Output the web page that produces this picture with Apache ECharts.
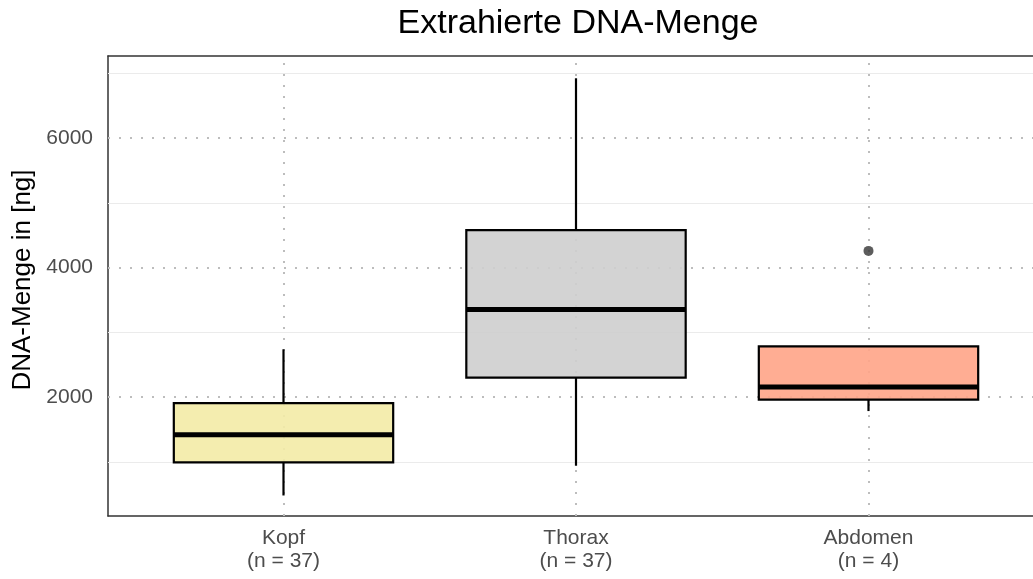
<!DOCTYPE html>
<html>
<head>
<meta charset="utf-8">
<script src="https://cdn.jsdelivr.net/npm/echarts@6/dist/echarts.min.js"></script>
<style>
  html, body { margin: 0; padding: 0; background: #fff; }
  #chart { width: 1033px; height: 579px; }
</style>
</head>
<body>
<div id="chart"></div>
<script>
// Daten
const categories = ['Kopf', 'Thorax', 'Abdomen'];
const counts = [37, 37, 4];
const lowerWhisker = [482, 941, 1785];
const q1 = [992, 2301, 1961];
const median = [1420, 3352, 2156];
const q3 = [1909, 4578, 2785];
const upperWhisker = [2739, 6923, 2785];
const outliers = [[3, 4258]];
const boxColors = ['rgba(243,235,166,0.9)', 'rgba(206,206,206,0.9)', 'rgba(255,164,135,0.9)'];
const majorTicks = [2000, 4000, 6000];
const minorTicks = [1000, 3000, 5000, 7000];

const boxData = categories.map((c, i) => [i + 1, lowerWhisker[i], q1[i], median[i], q3[i], upperWhisker[i]]);

const myChart = echarts.init(document.getElementById('chart'));

const txt = '#4D4D4D';
const font = 'Liberation Sans';

// Gitterlinien als markLine (unter den Boxen)
const gridLines = [];
minorTicks.forEach(v => gridLines.push({ yAxis: v, lineStyle: { color: '#EBEBEB', width: 1.2, type: 'solid' } }));
majorTicks.forEach(v => gridLines.push({ yAxis: v, lineStyle: { color: '#BDBDBD', width: 2, type: [2, 9] } }));
categories.forEach((c, i) => gridLines.push({ xAxis: i + 1, lineStyle: { color: '#BDBDBD', width: 2, type: [2, 9] } }));

const halfW = 0.375;
const frame = { show: true, onZero: false, lineStyle: { color: '#333', width: 1.5 } };

const option = {
    backgroundColor: '#fff',
    animation: false,
    textStyle: { fontFamily: font },
    title: {
        text: 'Extrahierte DNA-Menge',
        left: 573,
        top: 2,
        textAlign: 'center',
        textStyle: { fontFamily: font, fontSize: 34, fontWeight: 'normal', color: '#000' }
    },
    grid: {
        left: 108, right: 0, top: 56, bottom: 63,
        containLabel: false
    },
    // Panel ist rechts abgeschnitten: 0.4 .. 3.6 wuerde ueber den Rand gehen
    xAxis: [{
        type: 'value', min: 0.4, max: 3.5624,
        axisLine: frame,
        axisTick: { show: false },
        splitLine: { show: false },
        axisLabel: {
            customValues: [1, 2, 3],
            color: txt, fontSize: 21, lineHeight: 23, margin: 11,
            formatter: v => categories[Math.round(v) - 1] + '\n(n = ' + counts[Math.round(v) - 1] + ')'
        }
    }, {
        type: 'value', min: 0.4, max: 3.5624, position: 'top',
        axisLine: frame,
        axisTick: { show: false },
        axisLabel: { show: false },
        splitLine: { show: false }
    }],
    yAxis: {
        type: 'value', min: 165, max: 7267,
        name: 'DNA-Menge in [ng]',
        nameLocation: 'middle', nameGap: 68,
        nameTextStyle: { fontFamily: font, fontSize: 26, color: '#000', padding: [0, 0, 0, 12] },
        axisLine: frame,
        axisTick: { show: false },
        splitLine: { show: false },
        axisLabel: { customValues: majorTicks, color: txt, fontSize: 21, margin: 15, formatter: v => String(v) }
    },
    series: [
        {
            type: 'line', data: [], z: 1, silent: true,
            markLine: { silent: true, z: 1, symbol: 'none', label: { show: false }, data: gridLines }
        },
        {
            type: 'custom', z: 3,
            data: boxData,
            renderItem: (params, api) => {
                const x = api.value(0);
                const lo = api.coord([x, api.value(1)]);
                const b1 = api.coord([x - halfW, api.value(2)]);
                const b3 = api.coord([x + halfW, api.value(4)]);
                const md1 = api.coord([x - halfW, api.value(3)]);
                const md2 = api.coord([x + halfW, api.value(3)]);
                const hi = api.coord([x, api.value(5)]);
                const q1c = api.coord([x, api.value(2)]);
                const q3c = api.coord([x, api.value(4)]);
                return {
                    type: 'group',
                    children: [
                        { type: 'line', shape: { x1: lo[0], y1: lo[1], x2: q1c[0], y2: q1c[1] }, style: { stroke: '#000', lineWidth: 2.2 } },
                        { type: 'line', shape: { x1: q3c[0], y1: q3c[1], x2: hi[0], y2: hi[1] }, style: { stroke: '#000', lineWidth: 2.2 } },
                        { type: 'rect', shape: { x: b1[0], y: b3[1], width: b3[0] - b1[0], height: b1[1] - b3[1] },
                          style: { fill: boxColors[params.dataIndex], stroke: '#000', lineWidth: 2.2 } },
                        { type: 'line', shape: { x1: md1[0], y1: md1[1], x2: md2[0], y2: md2[1] }, style: { stroke: '#000', lineWidth: 5 } }
                    ]
                };
            }
        },
        {
            type: 'scatter', z: 4,
            data: outliers,
            symbolSize: 10,
            itemStyle: { color: '#333' }
        }
    ]
};

myChart.setOption(option, true);
window.addEventListener('resize', function () {
    myChart.resize();
});
</script>
</body>
</html>
